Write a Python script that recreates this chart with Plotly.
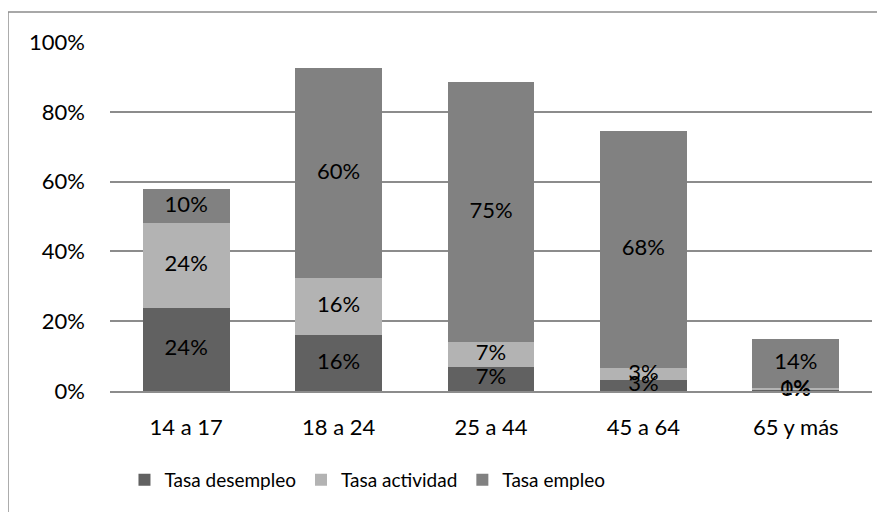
import plotly.graph_objects as go

# Datos
grupos = ['14 a 17', '18 a 24', '25 a 44', '45 a 64', '65 y más']
tasa_desempleo = [23.8, 16.0, 6.9, 3.1, 0.2]
tasa_actividad = [24.2, 16.3, 7.0, 3.4, 0.6]
tasa_empleo = [9.8, 60.3, 74.7, 68.0, 14.1]

series = [
    ('Tasa desempleo', tasa_desempleo, '#616161'),
    ('Tasa actividad', tasa_actividad, '#b3b3b3'),
    ('Tasa empleo', tasa_empleo, '#818181'),
]

FONT = 'Lato, "Open Sans", sans-serif'

fig = go.Figure()
base = [0.0] * len(grupos)
for name, vals, color in series:
    fig.add_trace(go.Bar(
        x=grupos, y=vals, name=name,
        marker=dict(color=color, line_width=0),
        hovertemplate='%{x}: %{y:.1f}%<extra>' + name + '</extra>',
    ))
    # etiquetas centradas en cada segmento
    mids = [b + v / 2 for b, v in zip(base, vals)]
    fig.add_trace(go.Scatter(
        x=grupos, y=mids, mode='text',
        text=[f'{round(v):.0f}%' for v in vals],
        textposition='middle center',
        textfont=dict(family=FONT, size=22, color='#000000'),
        showlegend=False, hoverinfo='skip', cliponaxis=False,
    ))
    base = [b + v for b, v in zip(base, vals)]

# marco del gráfico (recortado en la imagen)
fig.add_shape(type='rect', xref='paper', yref='paper',
              x0=-0.1339, x1=1.2, y0=-0.6, y1=1.0857,
              line=dict(color='#8c8c8c', width=1.5), layer='below')

# la página añade 8 px de margen al cuerpo: se compensa en los márgenes
fig.update_layout(
    barmode='stack',
    bargap=0.43,
    width=885, height=512,
    margin=dict(l=102, r=21, t=34, b=129),
    paper_bgcolor='white', plot_bgcolor='white',
    font=dict(family=FONT, size=22, color='#000000'),
    showlegend=True,
    legend=dict(orientation='h', x=0.019, xanchor='left', y=-0.2, yanchor='top',
                font=dict(family=FONT, size=19), traceorder='normal',
                itemwidth=30),
    xaxis=dict(showline=True, linecolor='#8c8c8c', linewidth=1.5,
               showgrid=False, ticks='', ticklabelstandoff=16,
               tickfont=dict(size=22)),
    yaxis=dict(range=[0, 100], dtick=20, ticksuffix='%',
               showgrid=True, gridcolor='#8c8c8c', gridwidth=1.5,
               zeroline=False, showline=False, ticks='', ticklabelstandoff=24,
               tickfont=dict(size=22)),
)

fig.write_html('out.html')
